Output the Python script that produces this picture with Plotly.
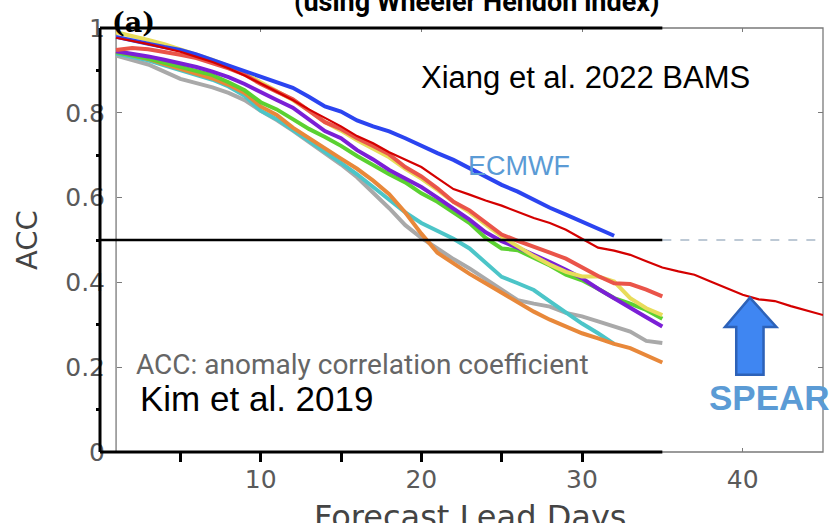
import plotly.graph_objects as go

# ---------------- data ----------------
days_35 = list(range(1, 36))
days_32 = list(range(1, 33))
days_45 = list(range(1, 46))

ecmwf = [0.979, 0.972, 0.963, 0.955, 0.948, 0.938, 0.925, 0.912, 0.898, 0.886,
         0.873, 0.859, 0.838, 0.815, 0.803, 0.782, 0.768, 0.756, 0.740, 0.722,
         0.705, 0.689, 0.670, 0.650, 0.630, 0.614, 0.595, 0.576, 0.560, 0.544,
         0.527, 0.510]
spear = [0.977, 0.970, 0.962, 0.953, 0.944, 0.932, 0.920, 0.905, 0.888, 0.869,
         0.850, 0.830, 0.808, 0.788, 0.768, 0.745, 0.728, 0.707, 0.690, 0.672,
         0.646, 0.620, 0.607, 0.593, 0.581, 0.567, 0.552, 0.540, 0.524, 0.503,
         0.482, 0.475, 0.465, 0.450, 0.435, 0.426, 0.418, 0.402, 0.386, 0.371,
         0.360, 0.356, 0.344, 0.333, 0.323]
yellow = [0.990, 0.982, 0.972, 0.962, 0.950, 0.938, 0.925, 0.910, 0.893, 0.872,
          0.852, 0.830, 0.805, 0.778, 0.758, 0.735, 0.715, 0.695, 0.668, 0.645,
          0.618, 0.590, 0.565, 0.535, 0.508, 0.485, 0.462, 0.442, 0.425, 0.414,
          0.414, 0.402, 0.363, 0.339, 0.323]
salmon = [0.948, 0.953, 0.950, 0.944, 0.937, 0.929, 0.918, 0.905, 0.890, 0.868,
          0.850, 0.832, 0.805, 0.778, 0.762, 0.740, 0.722, 0.702, 0.672, 0.650,
          0.622, 0.590, 0.570, 0.540, 0.513, 0.498, 0.485, 0.470, 0.456, 0.435,
          0.415, 0.398, 0.396, 0.383, 0.367]
purple = [0.945, 0.940, 0.933, 0.925, 0.917, 0.908, 0.897, 0.884, 0.868, 0.848,
          0.830, 0.812, 0.785, 0.757, 0.740, 0.712, 0.690, 0.665, 0.645, 0.625,
          0.600, 0.575, 0.548, 0.518, 0.497, 0.482, 0.466, 0.448, 0.430, 0.410,
          0.385, 0.362, 0.340, 0.318, 0.296]
green = [0.943, 0.936, 0.928, 0.918, 0.908, 0.899, 0.889, 0.872, 0.853, 0.825,
         0.808, 0.785, 0.762, 0.743, 0.722, 0.698, 0.676, 0.655, 0.636, 0.610,
         0.590, 0.565, 0.540, 0.505, 0.480, 0.476, 0.458, 0.440, 0.418, 0.405,
         0.385, 0.363, 0.350, 0.335, 0.314]
cyan = [0.940, 0.932, 0.924, 0.912, 0.900, 0.890, 0.878, 0.862, 0.840, 0.805,
        0.785, 0.760, 0.735, 0.708, 0.682, 0.655, 0.625, 0.596, 0.565, 0.540,
        0.522, 0.503, 0.480, 0.445, 0.413, 0.398, 0.382, 0.355, 0.328, 0.303,
        0.280, 0.255]
gray = [0.935, 0.925, 0.914, 0.897, 0.880, 0.870, 0.860, 0.847, 0.830, 0.805,
        0.783, 0.758, 0.732, 0.705, 0.678, 0.648, 0.612, 0.575, 0.535, 0.505,
        0.480, 0.455, 0.433, 0.408, 0.383, 0.358, 0.350, 0.343, 0.328, 0.320,
        0.308, 0.296, 0.284, 0.262, 0.257]
orange = [0.945, 0.937, 0.927, 0.915, 0.904, 0.893, 0.881, 0.866, 0.847, 0.815,
          0.795, 0.765, 0.740, 0.715, 0.692, 0.668, 0.640, 0.608, 0.565, 0.515,
          0.470, 0.445, 0.420, 0.398, 0.376, 0.354, 0.331, 0.312, 0.296, 0.280,
          0.268, 0.255, 0.245, 0.227, 0.211]

x_tickvals = [10, 20, 30, 40]
x_ticktext = ["10", "20", "30", "40"]
y_tickvals = [0, 0.2, 0.4, 0.6, 0.8, 1.0]
y_ticktext = ["0", "0.2", "0.4", "0.6", "0.8", "1"]

# ---------------- figure ----------------
W, H = 833, 523
ML, MR, MT, MB = 100, 10, 28, 71
XMAX = 45.0

fig = go.Figure()

series = [
    ("gray", days_35, gray, "#a9a9a9", 4),
    ("cyan", days_32, cyan, "#4cc5c8", 4),
    ("orange", days_35, orange, "#e8883a", 4),
    ("green", days_35, green, "#5bd131", 4),
    ("purple", days_35, purple, "#7b1fd6", 4),
    ("yellow", days_35, yellow, "#e8dc5a", 4),
    ("salmon", days_35, salmon, "#ea5449", 4),
    ("ECMWF", days_32, ecmwf, "#2b44f0", 4),
    ("SPEAR", days_45, spear, "#d40000", 2.2),
]
for name, xs, ys, col, w in series:
    fig.add_trace(go.Scatter(x=xs, y=ys, mode="lines", name=name,
                             line=dict(color=col, width=w),
                             showlegend=False, hoverinfo="skip"))

def px(d):
    return d / XMAX  # data x -> paper x

shapes = [
    # gray inner frame (x from 1 to 45)
    dict(type="rect", xref="paper", yref="paper", x0=px(1), x1=1, y0=0, y1=1,
         line=dict(color="#7a7a7a", width=1.3), layer="below"),
    # dashed 0.5 continuation
    dict(type="line", xref="paper", yref="y", x0=px(35), x1=1, y0=0.5, y1=0.5,
         line=dict(color="#a8b8c8", width=1.5, dash="dash")),
    # black 0.5 line
    dict(type="line", xref="paper", yref="y", x0=0, x1=px(35), y0=0.5, y1=0.5,
         line=dict(color="black", width=2.5)),
    # black axis box pieces
    dict(type="line", xref="paper", yref="paper", x0=0, x1=0, y0=0, y1=1,
         line=dict(color="black", width=3)),
    dict(type="line", xref="paper", yref="paper", x0=0, x1=px(35), y0=1, y1=1,
         line=dict(color="black", width=3)),
    dict(type="line", xref="paper", yref="paper", x0=0, x1=px(35), y0=0, y1=0,
         line=dict(color="black", width=3)),
    # SPEAR block arrow
    dict(type="path", xref="x", yref="y",
         path="M 40.45 0.364 L 42.1 0.295 L 41.3 0.295 L 41.3 0.182 "
              "L 39.6 0.182 L 39.6 0.295 L 38.9 0.295 Z",
         fillcolor="#3f86f2", line=dict(color="#2d62b8", width=2.5)),
]

def dx(p):
    return (p - ML) / (W - ML - MR) * XMAX

def dy(p):
    return (H - MB - p) / (H - MT - MB)

annotations = [
    dict(text="<b>(using Wheeler Hendon index)</b>", xref="paper", yref="paper",
         x=(476 - ML) / (W - ML - MR), y=1.018, xanchor="center", yanchor="bottom",
         showarrow=False, font=dict(family="Roboto", size=27, color="black")),
    dict(text="<b>(a)</b>", xref="paper", yref="paper",
         x=(133 - ML) / (W - ML - MR), y=dy(22), xanchor="center", yanchor="middle",
         showarrow=False, font=dict(family="DejaVu Serif", size=27, color="black")),
    dict(text="Xiang et al. 2022 BAMS", xref="x", yref="y", x=dx(585), y=dy(77),
         showarrow=False, font=dict(family="Liberation Sans", size=31, color="black")),
    dict(text="ECMWF", xref="x", yref="y", x=dx(519), y=dy(166),
         showarrow=False, font=dict(family="Liberation Sans", size=27, color="#5b9bd5")),
    dict(text="ACC: anomaly correlation coefficient", xref="x", yref="y",
         x=dx(362), y=dy(364), showarrow=False,
         font=dict(family="Roboto", size=28, color="#666666")),
    dict(text="Kim et al. 2019", xref="x", yref="y", x=dx(256), y=dy(398),
         showarrow=False, font=dict(family="Liberation Sans", size=35, color="black")),
    dict(text="<b>SPEAR</b>", xref="x", yref="y", x=dx(769), y=dy(397),
         showarrow=False, font=dict(family="Liberation Sans", size=35, color="#5b9bd5")),
    dict(text="ACC", xref="paper", yref="paper", x=(27 - ML) / (W - ML - MR),
         y=dy(240), textangle=-90, xanchor="center", yanchor="middle",
         showarrow=False, font=dict(family="DejaVu Sans", size=29, color="#444444")),
    dict(text="Forecast Lead Days", xref="paper", yref="paper",
         x=(470 - ML) / (W - ML - MR), y=dy(496), xanchor="center", yanchor="top",
         showarrow=False, font=dict(family="DejaVu Sans", size=32, color="#444444")),
]

tickfont = dict(family="DejaVu Sans", size=25, color="#5a5a5a")

fig.update_layout(
    width=W, height=H,
    margin=dict(l=ML, r=MR, t=MT, b=MB),
    paper_bgcolor="white", plot_bgcolor="white",
    shapes=shapes, annotations=annotations,
    xaxis=dict(range=[0, XMAX], tickvals=x_tickvals, ticktext=x_ticktext,
               ticks="", showgrid=False, zeroline=False, showline=False,
               tickfont=tickfont, ticklabelstandoff=10, fixedrange=True),
    xaxis2=dict(overlaying="x", range=[0, XMAX], tickvals=[5, 10, 15, 20, 25, 30],
                ticks="outside", ticklen=9, tickwidth=3, tickcolor="black",
                showticklabels=False, showgrid=False, zeroline=False,
                showline=False, anchor="y", side="bottom"),
    xaxis3=dict(overlaying="x", range=[0, XMAX], tickvals=x_tickvals,
                ticks="inside", ticklen=4, tickwidth=1.2, tickcolor="#7a7a7a",
                showticklabels=False, showgrid=False, zeroline=False,
                showline=False, anchor="y", side="top"),
    xaxis4=dict(overlaying="x", range=[0, XMAX], tickvals=[40],
                ticks="inside", ticklen=4, tickwidth=1.2, tickcolor="#7a7a7a",
                showticklabels=False, showgrid=False, zeroline=False,
                showline=False, anchor="y", side="bottom"),
    yaxis=dict(range=[0, 1], tickvals=y_tickvals, ticktext=y_ticktext,
               ticks="", showgrid=False, zeroline=False, showline=False,
               tickfont=tickfont, ticklabelstandoff=-6, fixedrange=True),
    yaxis2=dict(overlaying="y", range=[0, 1], tickvals=[0.1, 0.3, 0.5, 0.7, 0.9],
                ticks="outside", ticklen=3, tickwidth=3, tickcolor="black",
                showticklabels=False, showgrid=False, zeroline=False,
                showline=False, anchor="x", side="left"),
    yaxis3=dict(overlaying="y", range=[0, 1], tickvals=[0.2, 0.4, 0.6, 0.8],
                ticks="inside", ticklen=5, tickwidth=1.2, tickcolor="#7a7a7a",
                showticklabels=False, showgrid=False, zeroline=False,
                showline=False, anchor="free", position=1 / XMAX, side="left"),
    yaxis4=dict(overlaying="y", range=[0, 1], tickvals=[0.2, 0.4, 0.6, 0.8],
                ticks="inside", ticklen=5, tickwidth=1.2, tickcolor="#7a7a7a",
                showticklabels=False, showgrid=False, zeroline=False,
                showline=False, anchor="x", side="right"),
)

# invisible helper traces so the extra tick-only axes are drawn
fig.add_trace(go.Scatter(x=[0], y=[0], xaxis="x2", yaxis="y2", mode="markers",
                         marker=dict(opacity=0), showlegend=False, hoverinfo="skip"))
fig.add_trace(go.Scatter(x=[0], y=[0], xaxis="x3", yaxis="y3", mode="markers",
                         marker=dict(opacity=0), showlegend=False, hoverinfo="skip"))
fig.add_trace(go.Scatter(x=[0], y=[0], xaxis="x4", yaxis="y4", mode="markers",
                         marker=dict(opacity=0), showlegend=False, hoverinfo="skip"))

fig.write_html("out.html")
